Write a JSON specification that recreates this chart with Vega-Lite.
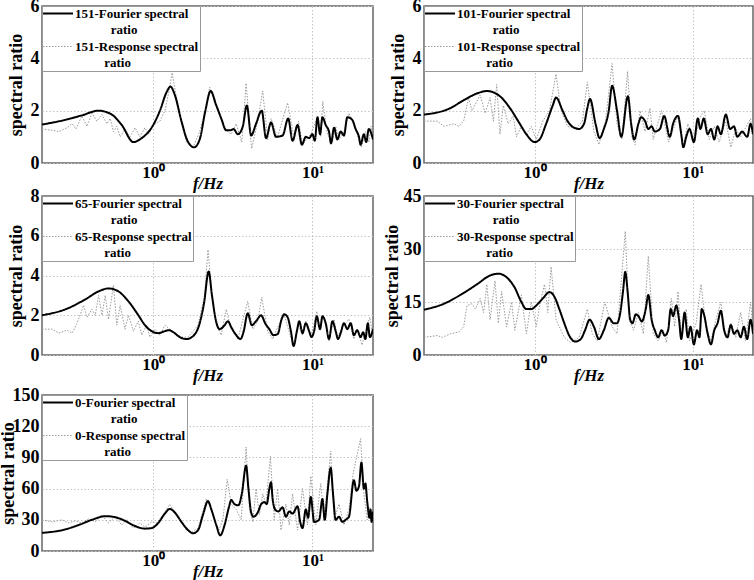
{
  "$schema": "https://vega.github.io/schema/vega-lite/v6.json",
  "background": "white",
  "padding": {"left": -2, "top": -4, "right": 2, "bottom": 0},
  "datasets": {
    "p151": [
      {"kind":"Fourier","f":0.2,"v":1.47},{"kind":"Fourier","f":0.267,"v":1.62},{"kind":"Fourier","f":0.356,"v":1.82},{"kind":"Fourier","f":0.453,"v":2.0},{"kind":"Fourier","f":0.549,"v":1.85},{"kind":"Fourier","f":0.634,"v":1.45},{"kind":"Fourier","f":0.75,"v":0.8},{"kind":"Fourier","f":0.846,"v":0.95},{"kind":"Fourier","f":0.976,"v":1.35},{"kind":"Fourier","f":1.101,"v":2.0},{"kind":"Fourier","f":1.211,"v":2.7},{"kind":"Fourier","f":1.283,"v":2.92},{"kind":"Fourier","f":1.366,"v":2.6},{"kind":"Fourier","f":1.503,"v":1.6},{"kind":"Fourier","f":1.655,"v":0.8},{"kind":"Fourier","f":1.804,"v":0.6},{"kind":"Fourier","f":1.957,"v":0.9},{"kind":"Fourier","f":2.124,"v":2.0},{"kind":"Fourier","f":2.293,"v":2.75},{"kind":"Fourier","f":2.488,"v":2.2},{"kind":"Fourier","f":2.674,"v":1.7},{"kind":"Fourier","f":2.872,"v":1.25},{"kind":"Fourier","f":3.057,"v":1.25},{"kind":"Fourier","f":3.19,"v":1.3},{"kind":"Fourier","f":3.398,"v":1.1},{"kind":"Fourier","f":3.652,"v":1.4},{"kind":"Fourier","f":3.869,"v":2.2},{"kind":"Fourier","f":4.12,"v":1.05},{"kind":"Fourier","f":4.42,"v":1.5},{"kind":"Fourier","f":4.8,"v":2.0},{"kind":"Fourier","f":5.11,"v":0.95},{"kind":"Fourier","f":5.49,"v":1.55},{"kind":"Fourier","f":5.9,"v":1.0},{"kind":"Fourier","f":6.49,"v":1.05},{"kind":"Fourier","f":7.04,"v":1.7},{"kind":"Fourier","f":7.5,"v":0.85},{"kind":"Fourier","f":8.06,"v":1.45},{"kind":"Fourier","f":8.58,"v":0.7},{"kind":"Fourier","f":9.08,"v":1.0},{"kind":"Fourier","f":9.53,"v":0.95},{"kind":"Fourier","f":10.0,"v":1.1},{"kind":"Fourier","f":10.34,"v":0.85},{"kind":"Fourier","f":10.75,"v":1.75},{"kind":"Fourier","f":11.16,"v":1.1},{"kind":"Fourier","f":11.55,"v":1.75},{"kind":"Fourier","f":12.11,"v":1.45},{"kind":"Fourier","f":12.7,"v":1.2},{"kind":"Fourier","f":13.08,"v":0.75},{"kind":"Fourier","f":13.66,"v":1.35},{"kind":"Fourier","f":14.33,"v":0.9},{"kind":"Fourier","f":15.03,"v":1.2},{"kind":"Fourier","f":15.77,"v":1.05},{"kind":"Fourier","f":16.55,"v":1.75},{"kind":"Fourier","f":17.78,"v":1.65},{"kind":"Fourier","f":18.66,"v":1.3},{"kind":"Fourier","f":19.58,"v":1.0},{"kind":"Fourier","f":20.05,"v":0.7},{"kind":"Fourier","f":21.03,"v":1.1},{"kind":"Fourier","f":21.76,"v":0.8},{"kind":"Fourier","f":22.59,"v":1.3},{"kind":"Fourier","f":24,"v":0.9},
      {"kind":"Response","f":0.2,"v":1.3},{"kind":"Response","f":0.232,"v":1.25},{"kind":"Response","f":0.255,"v":1.2},{"kind":"Response","f":0.287,"v":1.35},{"kind":"Response","f":0.309,"v":1.5},{"kind":"Response","f":0.327,"v":1.3},{"kind":"Response","f":0.356,"v":1.8},{"kind":"Response","f":0.383,"v":1.4},{"kind":"Response","f":0.412,"v":1.9},{"kind":"Response","f":0.442,"v":1.6},{"kind":"Response","f":0.476,"v":1.85},{"kind":"Response","f":0.511,"v":1.5},{"kind":"Response","f":0.536,"v":1.7},{"kind":"Response","f":0.562,"v":1.2},{"kind":"Response","f":0.59,"v":1.4},{"kind":"Response","f":0.619,"v":1.0},{"kind":"Response","f":0.665,"v":1.3},{"kind":"Response","f":0.715,"v":1.0},{"kind":"Response","f":0.768,"v":1.35},{"kind":"Response","f":0.825,"v":1.0},{"kind":"Response","f":0.887,"v":1.35},{"kind":"Response","f":0.931,"v":1.1},{"kind":"Response","f":1.0,"v":1.45},{"kind":"Response","f":1.101,"v":1.6},{"kind":"Response","f":1.183,"v":2.0},{"kind":"Response","f":1.241,"v":2.6},{"kind":"Response","f":1.314,"v":3.45},{"kind":"Response","f":1.399,"v":2.5},{"kind":"Response","f":1.503,"v":1.5},{"kind":"Response","f":1.616,"v":0.8},{"kind":"Response","f":1.778,"v":0.6},{"kind":"Response","f":1.957,"v":1.2},{"kind":"Response","f":2.124,"v":2.0},{"kind":"Response","f":2.26,"v":2.9},{"kind":"Response","f":2.427,"v":2.3},{"kind":"Response","f":2.609,"v":1.9},{"kind":"Response","f":2.805,"v":1.3},{"kind":"Response","f":3.088,"v":1.1},{"kind":"Response","f":3.318,"v":1.5},{"kind":"Response","f":3.598,"v":0.8},{"kind":"Response","f":3.83,"v":3.05},{"kind":"Response","f":4.076,"v":1.0},{"kind":"Response","f":4.155,"v":0.55},{"kind":"Response","f":4.53,"v":1.6},{"kind":"Response","f":4.87,"v":2.75},{"kind":"Response","f":5.23,"v":0.9},{"kind":"Response","f":5.49,"v":1.7},{"kind":"Response","f":6.04,"v":1.0},{"kind":"Response","f":6.98,"v":2.3},{"kind":"Response","f":7.68,"v":0.9},{"kind":"Response","f":8.18,"v":1.6},{"kind":"Response","f":8.66,"v":0.7},{"kind":"Response","f":9.76,"v":1.1},{"kind":"Response","f":10.64,"v":1.7},{"kind":"Response","f":11.27,"v":1.0},{"kind":"Response","f":11.6,"v":2.35},{"kind":"Response","f":12.41,"v":1.1},{"kind":"Response","f":13.34,"v":0.8},{"kind":"Response","f":13.99,"v":1.4},{"kind":"Response","f":14.68,"v":0.9},{"kind":"Response","f":15.77,"v":1.2},{"kind":"Response","f":16.95,"v":1.9},{"kind":"Response","f":18.2,"v":1.5},{"kind":"Response","f":19.1,"v":1.1},{"kind":"Response","f":20.3,"v":0.6},{"kind":"Response","f":21.5,"v":1.2},{"kind":"Response","f":22.59,"v":0.8},{"kind":"Response","f":23.36,"v":1.4},{"kind":"Response","f":24,"v":1.0}
    ],
    "p101": [
      {"kind":"Fourier","f":0.2,"v":1.85},{"kind":"Fourier","f":0.294,"v":2.1},{"kind":"Fourier","f":0.356,"v":2.4},{"kind":"Fourier","f":0.453,"v":2.7},{"kind":"Fourier","f":0.499,"v":2.75},{"kind":"Fourier","f":0.604,"v":2.55},{"kind":"Fourier","f":0.698,"v":2.1},{"kind":"Fourier","f":0.806,"v":1.5},{"kind":"Fourier","f":0.887,"v":1.1},{"kind":"Fourier","f":1.0,"v":0.8},{"kind":"Fourier","f":1.075,"v":0.9},{"kind":"Fourier","f":1.183,"v":1.5},{"kind":"Fourier","f":1.302,"v":2.2},{"kind":"Fourier","f":1.366,"v":2.5},{"kind":"Fourier","f":1.503,"v":2.0},{"kind":"Fourier","f":1.616,"v":1.6},{"kind":"Fourier","f":1.778,"v":1.35},{"kind":"Fourier","f":1.911,"v":1.3},{"kind":"Fourier","f":2.054,"v":1.5},{"kind":"Fourier","f":2.154,"v":2.1},{"kind":"Fourier","f":2.239,"v":2.45},{"kind":"Fourier","f":2.427,"v":1.5},{"kind":"Fourier","f":2.573,"v":0.95},{"kind":"Fourier","f":2.738,"v":1.3},{"kind":"Fourier","f":2.943,"v":2.0},{"kind":"Fourier","f":3.088,"v":2.95},{"kind":"Fourier","f":3.318,"v":2.0},{"kind":"Fourier","f":3.53,"v":1.0},{"kind":"Fourier","f":3.887,"v":2.55},{"kind":"Fourier","f":4.076,"v":1.5},{"kind":"Fourier","f":4.26,"v":0.9},{"kind":"Fourier","f":4.53,"v":1.5},{"kind":"Fourier","f":4.71,"v":1.75},{"kind":"Fourier","f":4.99,"v":1.6},{"kind":"Fourier","f":5.23,"v":1.3},{"kind":"Fourier","f":5.49,"v":1.4},{"kind":"Fourier","f":5.75,"v":1.2},{"kind":"Fourier","f":6.19,"v":1.3},{"kind":"Fourier","f":6.59,"v":1.8},{"kind":"Fourier","f":7.15,"v":1.0},{"kind":"Fourier","f":7.5,"v":1.5},{"kind":"Fourier","f":8.06,"v":1.8},{"kind":"Fourier","f":8.45,"v":1.1},{"kind":"Fourier","f":8.7,"v":0.6},{"kind":"Fourier","f":9.08,"v":1.0},{"kind":"Fourier","f":9.53,"v":1.3},{"kind":"Fourier","f":10.15,"v":0.8},{"kind":"Fourier","f":10.75,"v":1.7},{"kind":"Fourier","f":11.16,"v":1.3},{"kind":"Fourier","f":11.72,"v":1.7},{"kind":"Fourier","f":12.41,"v":1.1},{"kind":"Fourier","f":13.02,"v":1.3},{"kind":"Fourier","f":13.66,"v":0.9},{"kind":"Fourier","f":14.33,"v":1.4},{"kind":"Fourier","f":15.03,"v":1.1},{"kind":"Fourier","f":16.16,"v":1.85},{"kind":"Fourier","f":17.19,"v":1.3},{"kind":"Fourier","f":18.2,"v":1.4},{"kind":"Fourier","f":19.1,"v":1.0},{"kind":"Fourier","f":20.5,"v":1.2},{"kind":"Fourier","f":22.06,"v":1.0},{"kind":"Fourier","f":23.16,"v":1.5},{"kind":"Fourier","f":24,"v":1.1},
      {"kind":"Response","f":0.2,"v":1.6},{"kind":"Response","f":0.243,"v":1.6},{"kind":"Response","f":0.267,"v":1.4},{"kind":"Response","f":0.309,"v":1.5},{"kind":"Response","f":0.332,"v":1.4},{"kind":"Response","f":0.356,"v":1.6},{"kind":"Response","f":0.383,"v":2.5},{"kind":"Response","f":0.402,"v":2.0},{"kind":"Response","f":0.453,"v":2.6},{"kind":"Response","f":0.487,"v":1.9},{"kind":"Response","f":0.523,"v":2.5},{"kind":"Response","f":0.549,"v":1.6},{"kind":"Response","f":0.576,"v":3.0},{"kind":"Response","f":0.604,"v":1.1},{"kind":"Response","f":0.634,"v":2.2},{"kind":"Response","f":0.681,"v":1.5},{"kind":"Response","f":0.732,"v":1.8},{"kind":"Response","f":0.768,"v":1.0},{"kind":"Response","f":0.825,"v":1.4},{"kind":"Response","f":0.887,"v":1.1},{"kind":"Response","f":0.953,"v":1.4},{"kind":"Response","f":1.024,"v":0.9},{"kind":"Response","f":1.127,"v":1.6},{"kind":"Response","f":1.241,"v":2.0},{"kind":"Response","f":1.366,"v":3.4},{"kind":"Response","f":1.468,"v":2.0},{"kind":"Response","f":1.616,"v":1.4},{"kind":"Response","f":1.821,"v":1.3},{"kind":"Response","f":2.005,"v":1.6},{"kind":"Response","f":2.154,"v":3.1},{"kind":"Response","f":2.371,"v":1.2},{"kind":"Response","f":2.548,"v":0.7},{"kind":"Response","f":2.805,"v":1.6},{"kind":"Response","f":3.088,"v":3.8},{"kind":"Response","f":3.318,"v":1.5},{"kind":"Response","f":3.565,"v":0.9},{"kind":"Response","f":3.869,"v":3.5},{"kind":"Response","f":4.12,"v":1.0},{"kind":"Response","f":4.32,"v":0.7},{"kind":"Response","f":4.64,"v":2.0},{"kind":"Response","f":4.99,"v":1.2},{"kind":"Response","f":5.36,"v":2.1},{"kind":"Response","f":5.62,"v":0.9},{"kind":"Response","f":6.34,"v":2.0},{"kind":"Response","f":7.04,"v":0.8},{"kind":"Response","f":8.06,"v":1.8},{"kind":"Response","f":8.66,"v":0.6},{"kind":"Response","f":9.3,"v":1.5},{"kind":"Response","f":10.24,"v":0.8},{"kind":"Response","f":11.01,"v":1.7},{"kind":"Response","f":11.83,"v":2.0},{"kind":"Response","f":12.7,"v":0.9},{"kind":"Response","f":13.66,"v":1.4},{"kind":"Response","f":14.68,"v":0.8},{"kind":"Response","f":16.16,"v":1.6},{"kind":"Response","f":17.38,"v":0.6},{"kind":"Response","f":18.66,"v":1.3},{"kind":"Response","f":20.05,"v":1.0},{"kind":"Response","f":23.16,"v":1.7},{"kind":"Response","f":24,"v":0.9}
    ],
    "p65": [
      {"kind":"Fourier","f":0.2,"v":2.0},{"kind":"Fourier","f":0.281,"v":2.3},{"kind":"Fourier","f":0.374,"v":2.8},{"kind":"Fourier","f":0.453,"v":3.2},{"kind":"Fourier","f":0.523,"v":3.35},{"kind":"Fourier","f":0.604,"v":3.2},{"kind":"Fourier","f":0.698,"v":2.7},{"kind":"Fourier","f":0.806,"v":2.0},{"kind":"Fourier","f":0.887,"v":1.5},{"kind":"Fourier","f":0.976,"v":1.2},{"kind":"Fourier","f":1.075,"v":1.1},{"kind":"Fourier","f":1.183,"v":1.2},{"kind":"Fourier","f":1.253,"v":1.25},{"kind":"Fourier","f":1.334,"v":1.15},{"kind":"Fourier","f":1.468,"v":0.9},{"kind":"Fourier","f":1.616,"v":0.8},{"kind":"Fourier","f":1.778,"v":0.95},{"kind":"Fourier","f":1.957,"v":1.6},{"kind":"Fourier","f":2.083,"v":2.6},{"kind":"Fourier","f":2.228,"v":4.2},{"kind":"Fourier","f":2.337,"v":3.0},{"kind":"Fourier","f":2.464,"v":1.8},{"kind":"Fourier","f":2.609,"v":1.3},{"kind":"Fourier","f":2.805,"v":1.5},{"kind":"Fourier","f":2.943,"v":1.7},{"kind":"Fourier","f":3.088,"v":1.4},{"kind":"Fourier","f":3.318,"v":1.0},{"kind":"Fourier","f":3.53,"v":0.8},{"kind":"Fourier","f":3.7,"v":1.2},{"kind":"Fourier","f":3.92,"v":2.1},{"kind":"Fourier","f":4.155,"v":1.5},{"kind":"Fourier","f":4.42,"v":1.7},{"kind":"Fourier","f":4.76,"v":2.0},{"kind":"Fourier","f":5.04,"v":1.6},{"kind":"Fourier","f":5.36,"v":1.3},{"kind":"Fourier","f":5.68,"v":1.0},{"kind":"Fourier","f":6.04,"v":1.05},{"kind":"Fourier","f":6.4,"v":1.8},{"kind":"Fourier","f":6.65,"v":2.05},{"kind":"Fourier","f":6.98,"v":1.9},{"kind":"Fourier","f":7.32,"v":1.2},{"kind":"Fourier","f":7.61,"v":0.45},{"kind":"Fourier","f":7.98,"v":1.2},{"kind":"Fourier","f":8.26,"v":1.7},{"kind":"Fourier","f":8.66,"v":1.1},{"kind":"Fourier","f":9.08,"v":1.6},{"kind":"Fourier","f":9.53,"v":1.2},{"kind":"Fourier","f":9.86,"v":0.9},{"kind":"Fourier","f":10.24,"v":1.2},{"kind":"Fourier","f":10.64,"v":1.95},{"kind":"Fourier","f":11.16,"v":1.3},{"kind":"Fourier","f":11.55,"v":1.95},{"kind":"Fourier","f":12.11,"v":1.6},{"kind":"Fourier","f":12.7,"v":0.8},{"kind":"Fourier","f":13.34,"v":1.7},{"kind":"Fourier","f":13.99,"v":1.2},{"kind":"Fourier","f":14.47,"v":0.8},{"kind":"Fourier","f":15.03,"v":1.1},{"kind":"Fourier","f":15.77,"v":1.6},{"kind":"Fourier","f":16.55,"v":1.3},{"kind":"Fourier","f":17.38,"v":1.6},{"kind":"Fourier","f":18.2,"v":1.0},{"kind":"Fourier","f":19.1,"v":1.25},{"kind":"Fourier","f":20.05,"v":0.9},{"kind":"Fourier","f":20.83,"v":1.15},{"kind":"Fourier","f":21.5,"v":0.8},{"kind":"Fourier","f":22.28,"v":1.6},{"kind":"Fourier","f":22.93,"v":0.9},{"kind":"Fourier","f":24,"v":1.3},
      {"kind":"Response","f":0.2,"v":1.3},{"kind":"Response","f":0.232,"v":1.3},{"kind":"Response","f":0.255,"v":1.1},{"kind":"Response","f":0.287,"v":1.25},{"kind":"Response","f":0.309,"v":1.1},{"kind":"Response","f":0.332,"v":1.6},{"kind":"Response","f":0.365,"v":2.5},{"kind":"Response","f":0.383,"v":1.9},{"kind":"Response","f":0.412,"v":2.3},{"kind":"Response","f":0.432,"v":2.0},{"kind":"Response","f":0.453,"v":3.0},{"kind":"Response","f":0.476,"v":2.0},{"kind":"Response","f":0.499,"v":3.0},{"kind":"Response","f":0.523,"v":1.8},{"kind":"Response","f":0.562,"v":3.5},{"kind":"Response","f":0.59,"v":1.5},{"kind":"Response","f":0.619,"v":2.5},{"kind":"Response","f":0.665,"v":1.3},{"kind":"Response","f":0.698,"v":2.0},{"kind":"Response","f":0.75,"v":1.2},{"kind":"Response","f":0.806,"v":1.7},{"kind":"Response","f":0.846,"v":1.0},{"kind":"Response","f":0.908,"v":1.5},{"kind":"Response","f":0.953,"v":0.9},{"kind":"Response","f":1.024,"v":1.3},{"kind":"Response","f":1.101,"v":1.0},{"kind":"Response","f":1.183,"v":1.5},{"kind":"Response","f":1.271,"v":1.3},{"kind":"Response","f":1.366,"v":1.1},{"kind":"Response","f":1.503,"v":0.9},{"kind":"Response","f":1.655,"v":0.9},{"kind":"Response","f":1.911,"v":1.5},{"kind":"Response","f":2.102,"v":3.0},{"kind":"Response","f":2.207,"v":5.3},{"kind":"Response","f":2.337,"v":3.0},{"kind":"Response","f":2.488,"v":1.5},{"kind":"Response","f":2.674,"v":1.0},{"kind":"Response","f":2.872,"v":2.3},{"kind":"Response","f":3.088,"v":1.3},{"kind":"Response","f":3.398,"v":0.8},{"kind":"Response","f":3.92,"v":2.7},{"kind":"Response","f":4.22,"v":1.3},{"kind":"Response","f":4.53,"v":1.7},{"kind":"Response","f":4.8,"v":2.9},{"kind":"Response","f":5.23,"v":1.2},{"kind":"Response","f":5.62,"v":0.8},{"kind":"Response","f":5.9,"v":1.2},{"kind":"Response","f":6.59,"v":2.1},{"kind":"Response","f":7.25,"v":1.0},{"kind":"Response","f":7.61,"v":0.5},{"kind":"Response","f":8.18,"v":1.5},{"kind":"Response","f":8.66,"v":1.0},{"kind":"Response","f":9.08,"v":1.7},{"kind":"Response","f":9.76,"v":0.9},{"kind":"Response","f":10.64,"v":2.2},{"kind":"Response","f":11.16,"v":1.3},{"kind":"Response","f":11.72,"v":2.0},{"kind":"Response","f":12.7,"v":0.7},{"kind":"Response","f":13.66,"v":1.8},{"kind":"Response","f":14.33,"v":0.9},{"kind":"Response","f":15.4,"v":1.4},{"kind":"Response","f":16.95,"v":1.8},{"kind":"Response","f":18.2,"v":0.8},{"kind":"Response","f":19.1,"v":1.3},{"kind":"Response","f":20.5,"v":0.5},{"kind":"Response","f":22.06,"v":1.5},{"kind":"Response","f":22.93,"v":1.9},{"kind":"Response","f":24,"v":0.9}
    ],
    "p30": [
      {"kind":"Fourier","f":0.2,"v":12.8},{"kind":"Fourier","f":0.267,"v":14.5},{"kind":"Fourier","f":0.34,"v":17},{"kind":"Fourier","f":0.432,"v":20},{"kind":"Fourier","f":0.523,"v":22.5},{"kind":"Fourier","f":0.59,"v":23},{"kind":"Fourier","f":0.665,"v":22},{"kind":"Fourier","f":0.75,"v":19},{"kind":"Fourier","f":0.825,"v":15},{"kind":"Fourier","f":0.887,"v":13},{"kind":"Fourier","f":0.953,"v":13},{"kind":"Fourier","f":1.024,"v":14},{"kind":"Fourier","f":1.127,"v":16},{"kind":"Fourier","f":1.241,"v":17.8},{"kind":"Fourier","f":1.334,"v":16.5},{"kind":"Fourier","f":1.433,"v":13},{"kind":"Fourier","f":1.54,"v":9},{"kind":"Fourier","f":1.655,"v":5.5},{"kind":"Fourier","f":1.804,"v":3.8},{"kind":"Fourier","f":1.957,"v":4.5},{"kind":"Fourier","f":2.083,"v":7},{"kind":"Fourier","f":2.228,"v":10},{"kind":"Fourier","f":2.371,"v":8},{"kind":"Fourier","f":2.548,"v":4.5},{"kind":"Fourier","f":2.738,"v":7},{"kind":"Fourier","f":2.943,"v":10.5},{"kind":"Fourier","f":3.162,"v":9},{"kind":"Fourier","f":3.318,"v":9},{"kind":"Fourier","f":3.48,"v":12},{"kind":"Fourier","f":3.62,"v":18},{"kind":"Fourier","f":3.74,"v":23.5},{"kind":"Fourier","f":3.869,"v":18},{"kind":"Fourier","f":4.02,"v":10},{"kind":"Fourier","f":4.155,"v":9},{"kind":"Fourier","f":4.36,"v":11.5},{"kind":"Fourier","f":4.53,"v":11},{"kind":"Fourier","f":4.76,"v":9.5},{"kind":"Fourier","f":5.04,"v":13},{"kind":"Fourier","f":5.23,"v":17},{"kind":"Fourier","f":5.49,"v":10},{"kind":"Fourier","f":5.75,"v":7},{"kind":"Fourier","f":6.04,"v":5},{"kind":"Fourier","f":6.34,"v":7},{"kind":"Fourier","f":6.65,"v":5.5},{"kind":"Fourier","f":6.98,"v":7},{"kind":"Fourier","f":7.25,"v":13},{"kind":"Fourier","f":7.5,"v":11},{"kind":"Fourier","f":7.86,"v":14},{"kind":"Fourier","f":8.18,"v":10},{"kind":"Fourier","f":8.45,"v":4.5},{"kind":"Fourier","f":8.87,"v":12},{"kind":"Fourier","f":9.3,"v":5},{"kind":"Fourier","f":9.67,"v":8},{"kind":"Fourier","f":10.15,"v":3},{"kind":"Fourier","f":10.64,"v":7},{"kind":"Fourier","f":11.01,"v":5},{"kind":"Fourier","f":11.38,"v":13},{"kind":"Fourier","f":11.83,"v":11},{"kind":"Fourier","f":12.41,"v":6},{"kind":"Fourier","f":13.02,"v":3},{"kind":"Fourier","f":13.66,"v":7},{"kind":"Fourier","f":14.33,"v":9},{"kind":"Fourier","f":15.03,"v":12.5},{"kind":"Fourier","f":15.77,"v":7},{"kind":"Fourier","f":16.55,"v":5},{"kind":"Fourier","f":17.38,"v":8.5},{"kind":"Fourier","f":18.2,"v":6},{"kind":"Fourier","f":19.1,"v":7},{"kind":"Fourier","f":20.05,"v":5},{"kind":"Fourier","f":21.03,"v":8},{"kind":"Fourier","f":22.06,"v":4.5},{"kind":"Fourier","f":23.16,"v":10},{"kind":"Fourier","f":24,"v":6},
      {"kind":"Response","f":0.2,"v":5},{"kind":"Response","f":0.243,"v":5.5},{"kind":"Response","f":0.261,"v":5},{"kind":"Response","f":0.294,"v":6},{"kind":"Response","f":0.332,"v":6.5},{"kind":"Response","f":0.356,"v":8},{"kind":"Response","f":0.374,"v":14},{"kind":"Response","f":0.402,"v":14.5},{"kind":"Response","f":0.422,"v":13},{"kind":"Response","f":0.453,"v":16},{"kind":"Response","f":0.476,"v":12},{"kind":"Response","f":0.499,"v":20},{"kind":"Response","f":0.523,"v":10},{"kind":"Response","f":0.562,"v":21},{"kind":"Response","f":0.59,"v":9},{"kind":"Response","f":0.619,"v":18},{"kind":"Response","f":0.665,"v":8},{"kind":"Response","f":0.715,"v":15},{"kind":"Response","f":0.75,"v":7},{"kind":"Response","f":0.825,"v":17},{"kind":"Response","f":0.887,"v":6},{"kind":"Response","f":0.953,"v":15},{"kind":"Response","f":1.024,"v":8},{"kind":"Response","f":1.075,"v":14},{"kind":"Response","f":1.155,"v":20},{"kind":"Response","f":1.211,"v":12},{"kind":"Response","f":1.271,"v":25},{"kind":"Response","f":1.366,"v":10},{"kind":"Response","f":1.54,"v":5},{"kind":"Response","f":1.695,"v":3.5},{"kind":"Response","f":1.911,"v":5},{"kind":"Response","f":2.154,"v":13},{"kind":"Response","f":2.316,"v":6},{"kind":"Response","f":2.488,"v":4},{"kind":"Response","f":2.778,"v":15},{"kind":"Response","f":3.088,"v":8},{"kind":"Response","f":3.318,"v":6},{"kind":"Response","f":3.74,"v":35},{"kind":"Response","f":3.96,"v":10},{"kind":"Response","f":4.22,"v":7},{"kind":"Response","f":4.53,"v":12},{"kind":"Response","f":4.87,"v":6},{"kind":"Response","f":5.23,"v":28},{"kind":"Response","f":5.62,"v":6},{"kind":"Response","f":6.04,"v":4},{"kind":"Response","f":6.49,"v":7},{"kind":"Response","f":6.81,"v":3.5},{"kind":"Response","f":7.32,"v":16},{"kind":"Response","f":7.68,"v":8},{"kind":"Response","f":8.06,"v":18},{"kind":"Response","f":8.45,"v":5},{"kind":"Response","f":9.08,"v":13},{"kind":"Response","f":9.53,"v":4},{"kind":"Response","f":10.49,"v":9},{"kind":"Response","f":11.27,"v":20},{"kind":"Response","f":12.11,"v":8},{"kind":"Response","f":13.02,"v":4},{"kind":"Response","f":13.99,"v":10},{"kind":"Response","f":15.03,"v":15},{"kind":"Response","f":16.16,"v":5},{"kind":"Response","f":17.38,"v":9},{"kind":"Response","f":18.66,"v":5},{"kind":"Response","f":20.05,"v":12},{"kind":"Response","f":21.5,"v":4},{"kind":"Response","f":23.16,"v":15},{"kind":"Response","f":24,"v":7}
    ],
    "p0": [
      {"kind":"Fourier","f":0.2,"v":17.5},{"kind":"Fourier","f":0.267,"v":20},{"kind":"Fourier","f":0.34,"v":25},{"kind":"Fourier","f":0.412,"v":30},{"kind":"Fourier","f":0.499,"v":33.5},{"kind":"Fourier","f":0.576,"v":32.5},{"kind":"Fourier","f":0.665,"v":29},{"kind":"Fourier","f":0.768,"v":24},{"kind":"Fourier","f":0.887,"v":21.5},{"kind":"Fourier","f":0.976,"v":22},{"kind":"Fourier","f":1.075,"v":27},{"kind":"Fourier","f":1.183,"v":36},{"kind":"Fourier","f":1.271,"v":40.5},{"kind":"Fourier","f":1.366,"v":37},{"kind":"Fourier","f":1.503,"v":28},{"kind":"Fourier","f":1.655,"v":20},{"kind":"Fourier","f":1.778,"v":17},{"kind":"Fourier","f":1.911,"v":20},{"kind":"Fourier","f":2.054,"v":35},{"kind":"Fourier","f":2.207,"v":48},{"kind":"Fourier","f":2.316,"v":40},{"kind":"Fourier","f":2.488,"v":25},{"kind":"Fourier","f":2.634,"v":15},{"kind":"Fourier","f":2.805,"v":25},{"kind":"Fourier","f":2.985,"v":42},{"kind":"Fourier","f":3.088,"v":49},{"kind":"Fourier","f":3.24,"v":45},{"kind":"Fourier","f":3.43,"v":44},{"kind":"Fourier","f":3.598,"v":55},{"kind":"Fourier","f":3.83,"v":82},{"kind":"Fourier","f":3.96,"v":60},{"kind":"Fourier","f":4.12,"v":37},{"kind":"Fourier","f":4.26,"v":33},{"kind":"Fourier","f":4.53,"v":37},{"kind":"Fourier","f":4.76,"v":45},{"kind":"Fourier","f":4.99,"v":47},{"kind":"Fourier","f":5.16,"v":45},{"kind":"Fourier","f":5.36,"v":60},{"kind":"Fourier","f":5.49,"v":66},{"kind":"Fourier","f":5.62,"v":50},{"kind":"Fourier","f":5.82,"v":40},{"kind":"Fourier","f":6.1,"v":38},{"kind":"Fourier","f":6.49,"v":42},{"kind":"Fourier","f":6.81,"v":33},{"kind":"Fourier","f":7.15,"v":38},{"kind":"Fourier","f":7.5,"v":36},{"kind":"Fourier","f":8.06,"v":43},{"kind":"Fourier","f":8.37,"v":28},{"kind":"Fourier","f":8.66,"v":22},{"kind":"Fourier","f":9.08,"v":40},{"kind":"Fourier","f":9.39,"v":32},{"kind":"Fourier","f":9.76,"v":52},{"kind":"Fourier","f":10.24,"v":28},{"kind":"Fourier","f":11.01,"v":30},{"kind":"Fourier","f":11.55,"v":50},{"kind":"Fourier","f":11.94,"v":30},{"kind":"Fourier","f":12.41,"v":55},{"kind":"Fourier","f":13.02,"v":80},{"kind":"Fourier","f":13.46,"v":55},{"kind":"Fourier","f":13.99,"v":30},{"kind":"Fourier","f":14.68,"v":33},{"kind":"Fourier","f":15.4,"v":28},{"kind":"Fourier","f":16.16,"v":30},{"kind":"Fourier","f":16.95,"v":33},{"kind":"Fourier","f":18.2,"v":68},{"kind":"Fourier","f":18.9,"v":58},{"kind":"Fourier","f":19.58,"v":62},{"kind":"Fourier","f":20.3,"v":85},{"kind":"Fourier","f":21.03,"v":60},{"kind":"Fourier","f":21.5,"v":65},{"kind":"Fourier","f":22.06,"v":48},{"kind":"Fourier","f":22.82,"v":32},{"kind":"Fourier","f":23.16,"v":40},{"kind":"Fourier","f":23.49,"v":28},{"kind":"Fourier","f":24,"v":38},
      {"kind":"Response","f":0.2,"v":30},{"kind":"Response","f":0.232,"v":28},{"kind":"Response","f":0.267,"v":30},{"kind":"Response","f":0.294,"v":27},{"kind":"Response","f":0.324,"v":29},{"kind":"Response","f":0.356,"v":27},{"kind":"Response","f":0.393,"v":31},{"kind":"Response","f":0.432,"v":28},{"kind":"Response","f":0.476,"v":34},{"kind":"Response","f":0.523,"v":27},{"kind":"Response","f":0.576,"v":33},{"kind":"Response","f":0.634,"v":25},{"kind":"Response","f":0.681,"v":30},{"kind":"Response","f":0.75,"v":22},{"kind":"Response","f":0.825,"v":27},{"kind":"Response","f":0.887,"v":23},{"kind":"Response","f":0.976,"v":28},{"kind":"Response","f":1.049,"v":27},{"kind":"Response","f":1.155,"v":35},{"kind":"Response","f":1.271,"v":45},{"kind":"Response","f":1.366,"v":36},{"kind":"Response","f":1.54,"v":25},{"kind":"Response","f":1.736,"v":18},{"kind":"Response","f":1.911,"v":22},{"kind":"Response","f":2.154,"v":50},{"kind":"Response","f":2.316,"v":40},{"kind":"Response","f":2.548,"v":18},{"kind":"Response","f":2.738,"v":30},{"kind":"Response","f":2.915,"v":69},{"kind":"Response","f":3.088,"v":45},{"kind":"Response","f":3.318,"v":40},{"kind":"Response","f":3.565,"v":30},{"kind":"Response","f":3.83,"v":100},{"kind":"Response","f":4.02,"v":40},{"kind":"Response","f":4.22,"v":28},{"kind":"Response","f":4.42,"v":60},{"kind":"Response","f":4.64,"v":35},{"kind":"Response","f":4.87,"v":55},{"kind":"Response","f":5.11,"v":45},{"kind":"Response","f":5.44,"v":91},{"kind":"Response","f":5.75,"v":30},{"kind":"Response","f":6.04,"v":60},{"kind":"Response","f":6.34,"v":20},{"kind":"Response","f":6.81,"v":45},{"kind":"Response","f":7.15,"v":25},{"kind":"Response","f":7.5,"v":55},{"kind":"Response","f":8.06,"v":20},{"kind":"Response","f":8.66,"v":60},{"kind":"Response","f":9.3,"v":25},{"kind":"Response","f":9.76,"v":72},{"kind":"Response","f":10.49,"v":25},{"kind":"Response","f":11.27,"v":65},{"kind":"Response","f":11.83,"v":30},{"kind":"Response","f":13.02,"v":96},{"kind":"Response","f":13.66,"v":30},{"kind":"Response","f":14.68,"v":45},{"kind":"Response","f":15.77,"v":25},{"kind":"Response","f":16.95,"v":40},{"kind":"Response","f":18.03,"v":75},{"kind":"Response","f":20.05,"v":108},{"kind":"Response","f":21.03,"v":55},{"kind":"Response","f":22.06,"v":30},{"kind":"Response","f":22.93,"v":42},{"kind":"Response","f":24,"v":25}
    ]
  },
  "config": {
    "font": "Liberation Serif",
    "view": {"stroke": "#666666", "strokeWidth": 1.5},
    "axis": {
      "domain": false,
      "ticks": false,
      "grid": true,
      "gridColor": "#c4c4c4",
      "gridDash": [1.5, 2],
      "gridWidth": 1,
      "labelFont": "Liberation Serif",
      "labelFontWeight": "bold",
      "labelColor": "black",
      "titleFont": "Liberation Serif",
      "titleFontWeight": "bold",
      "titleColor": "black"
    },
    "axisX": {"labelFontSize": 17, "labelPadding": 1, "titleFontSize": 17, "titleFontStyle": "italic", "titleY": 12, "titleBaseline": "top"},
    "axisY": {"labelFontSize": 18, "labelPadding": 3, "titleFontSize": 18, "titleX": -17},
    "legend": {
      "orient": "top-left",
      "offset": 0,
      "padding": 1,
      "fillColor": "white",
      "strokeColor": "#999999",
      "labelFont": "Liberation Serif",
      "labelFontSize": 13,
      "labelFontWeight": "bold",
      "labelColor": "black",
      "labelLimit": 0,
      "labelOffset": 2,
      "symbolType": "stroke",
      "symbolSize": 900,
      "symbolStrokeWidth": 2,
      "rowPadding": 3
    }
  },
  "spacing": -6,
  "resolve": {
    "scale": {"color": "independent", "strokeDash": "independent", "x": "independent", "y": "independent"},
    "legend": {"color": "independent", "strokeDash": "independent"}
  },
  "vconcat": [
    {
      "spacing": 51,
      "bounds": "flush",
      "resolve": {
        "scale": {"color": "independent", "strokeDash": "independent", "x": "independent", "y": "independent"},
        "legend": {"color": "independent", "strokeDash": "independent"}
      },
      "hconcat": [
        {
          "width": 331,
          "height": 157,
          "data": {"name": "p151"},
          "encoding": {
            "x": {"field": "f", "type": "quantitative", "scale": {"type": "log", "domain": [0.2, 24], "nice": false}, "axis": {"values": [1, 10], "labelExpr": "datum.value == 1 ? '10⁰' : '10¹'", "title": "f/Hz"}},
            "y": {"field": "v", "type": "quantitative", "scale": {"domain": [0, 6], "nice": false}, "axis": {"values": [0, 2, 4, 6], "title": "spectral ratio"}},
            "color": {"field": "kind", "type": "nominal", "scale": {"domain": ["Fourier", "Response"], "range": ["#000000", "#9a9a9a"]},
              "legend": {"title": null, "labelExpr": "datum.label == 'Fourier' ? ['151-Fourier spectral', '\u200b\u00a0\u00a0\u00a0\u00a0\u00a0\u00a0\u00a0\u00a0\u00a0\u00a0\u00a0ratio'] : ['151-Response spectral', '\u200b\u00a0\u00a0\u00a0\u00a0\u00a0\u00a0\u00a0\u00a0\u00a0ratio']",
                "encode": {"labels": {"update": {"x": {"value": 32}, "lineHeight": {"value": 16.5}}}, "symbols": {"update": {"x": {"value": 15}, "size": {"value": 900}, "strokeWidth": {"signal": "datum.value == 'Fourier' ? 2 : 1"}}}}}},
            "strokeDash": {"field": "kind", "type": "nominal", "scale": {"domain": ["Fourier", "Response"], "range": [[1, 0], [1.5, 1.5]]},
              "legend": {"title": null, "labelExpr": "datum.label == 'Fourier' ? ['151-Fourier spectral', '\u200b\u00a0\u00a0\u00a0\u00a0\u00a0\u00a0\u00a0\u00a0\u00a0\u00a0\u00a0ratio'] : ['151-Response spectral', '\u200b\u00a0\u00a0\u00a0\u00a0\u00a0\u00a0\u00a0\u00a0\u00a0ratio']",
                "encode": {"labels": {"update": {"x": {"value": 32}, "lineHeight": {"value": 16.5}}}, "symbols": {"update": {"x": {"value": 15}, "size": {"value": 900}, "strokeWidth": {"signal": "datum.value == 'Fourier' ? 2 : 1"}}}}}}
          },
          "layer": [
            {"transform": [{"filter": "datum.kind == 'Response'"}], "mark": {"type": "line", "strokeWidth": 1, "clip": true}},
            {"transform": [{"filter": "datum.kind == 'Fourier'"}], "mark": {"type": "line", "strokeWidth": 2, "interpolate": "monotone", "clip": true}}
          ]
        },
        {
          "width": 329,
          "height": 157,
          "data": {"name": "p101"},
          "encoding": {
            "x": {"field": "f", "type": "quantitative", "scale": {"type": "log", "domain": [0.2, 24], "nice": false}, "axis": {"values": [1, 10], "labelExpr": "datum.value == 1 ? '10⁰' : '10¹'", "title": "f/Hz"}},
            "y": {"field": "v", "type": "quantitative", "scale": {"domain": [0, 6], "nice": false}, "axis": {"values": [0, 2, 4, 6], "title": "spectral ratio"}},
            "color": {"field": "kind", "type": "nominal", "scale": {"domain": ["Fourier", "Response"], "range": ["#000000", "#9a9a9a"]},
              "legend": {"title": null, "labelExpr": "datum.label == 'Fourier' ? ['101-Fourier spectral', '\u200b\u00a0\u00a0\u00a0\u00a0\u00a0\u00a0\u00a0\u00a0\u00a0\u00a0\u00a0ratio'] : ['101-Response spectral', '\u200b\u00a0\u00a0\u00a0\u00a0\u00a0\u00a0\u00a0\u00a0\u00a0ratio']",
                "encode": {"labels": {"update": {"x": {"value": 32}, "lineHeight": {"value": 16.5}}}, "symbols": {"update": {"x": {"value": 15}, "size": {"value": 900}, "strokeWidth": {"signal": "datum.value == 'Fourier' ? 2 : 1"}}}}}},
            "strokeDash": {"field": "kind", "type": "nominal", "scale": {"domain": ["Fourier", "Response"], "range": [[1, 0], [1.5, 1.5]]},
              "legend": {"title": null, "labelExpr": "datum.label == 'Fourier' ? ['101-Fourier spectral', '\u200b\u00a0\u00a0\u00a0\u00a0\u00a0\u00a0\u00a0\u00a0\u00a0\u00a0\u00a0ratio'] : ['101-Response spectral', '\u200b\u00a0\u00a0\u00a0\u00a0\u00a0\u00a0\u00a0\u00a0\u00a0ratio']",
                "encode": {"labels": {"update": {"x": {"value": 32}, "lineHeight": {"value": 16.5}}}, "symbols": {"update": {"x": {"value": 15}, "size": {"value": 900}, "strokeWidth": {"signal": "datum.value == 'Fourier' ? 2 : 1"}}}}}}
          },
          "layer": [
            {"transform": [{"filter": "datum.kind == 'Response'"}], "mark": {"type": "line", "strokeWidth": 1, "clip": true}},
            {"transform": [{"filter": "datum.kind == 'Fourier'"}], "mark": {"type": "line", "strokeWidth": 2, "interpolate": "monotone", "clip": true}}
          ]
        }
      ]
    },
    {
      "spacing": 1,
      "resolve": {
        "scale": {"color": "independent", "strokeDash": "independent", "x": "independent", "y": "independent"},
        "legend": {"color": "independent", "strokeDash": "independent"}
      },
      "vconcat": [
        {
          "spacing": 51,
          "bounds": "flush",
          "resolve": {
            "scale": {"color": "independent", "strokeDash": "independent", "x": "independent", "y": "independent"},
            "legend": {"color": "independent", "strokeDash": "independent"}
          },
          "hconcat": [
            {
              "width": 331,
              "height": 159,
              "data": {"name": "p65"},
              "encoding": {
                "x": {"field": "f", "type": "quantitative", "scale": {"type": "log", "domain": [0.2, 24], "nice": false}, "axis": {"values": [1, 10], "labelExpr": "datum.value == 1 ? '10⁰' : '10¹'", "title": "f/Hz"}},
                "y": {"field": "v", "type": "quantitative", "scale": {"domain": [0, 8], "nice": false}, "axis": {"values": [0, 2, 4, 6, 8], "title": "spectral ratio"}},
                "color": {"field": "kind", "type": "nominal", "scale": {"domain": ["Fourier", "Response"], "range": ["#000000", "#9a9a9a"]},
                  "legend": {"title": null, "labelExpr": "datum.label == 'Fourier' ? ['65-Fourier spectral', '\u200b\u00a0\u00a0\u00a0\u00a0\u00a0\u00a0\u00a0\u00a0\u00a0\u00a0\u00a0ratio'] : ['65-Response spectral', '\u200b\u00a0\u00a0\u00a0\u00a0\u00a0\u00a0\u00a0\u00a0\u00a0ratio']",
                    "encode": {"labels": {"update": {"x": {"value": 32}, "lineHeight": {"value": 16.5}}}, "symbols": {"update": {"x": {"value": 15}, "size": {"value": 900}, "strokeWidth": {"signal": "datum.value == 'Fourier' ? 2 : 1"}}}}}},
                "strokeDash": {"field": "kind", "type": "nominal", "scale": {"domain": ["Fourier", "Response"], "range": [[1, 0], [1.5, 1.5]]},
                  "legend": {"title": null, "labelExpr": "datum.label == 'Fourier' ? ['65-Fourier spectral', '\u200b\u00a0\u00a0\u00a0\u00a0\u00a0\u00a0\u00a0\u00a0\u00a0\u00a0\u00a0ratio'] : ['65-Response spectral', '\u200b\u00a0\u00a0\u00a0\u00a0\u00a0\u00a0\u00a0\u00a0\u00a0ratio']",
                    "encode": {"labels": {"update": {"x": {"value": 32}, "lineHeight": {"value": 16.5}}}, "symbols": {"update": {"x": {"value": 15}, "size": {"value": 900}, "strokeWidth": {"signal": "datum.value == 'Fourier' ? 2 : 1"}}}}}}
              },
              "layer": [
                {"transform": [{"filter": "datum.kind == 'Response'"}], "mark": {"type": "line", "strokeWidth": 1, "clip": true}},
                {"transform": [{"filter": "datum.kind == 'Fourier'"}], "mark": {"type": "line", "strokeWidth": 2, "interpolate": "monotone", "clip": true}}
              ]
            },
            {
              "width": 329,
              "height": 159,
              "data": {"name": "p30"},
              "encoding": {
                "x": {"field": "f", "type": "quantitative", "scale": {"type": "log", "domain": [0.2, 24], "nice": false}, "axis": {"values": [1, 10], "labelExpr": "datum.value == 1 ? '10⁰' : '10¹'", "title": "f/Hz"}},
                "y": {"field": "v", "type": "quantitative", "scale": {"domain": [0, 45], "nice": false}, "axis": {"values": [0, 15, 30, 45], "title": "spectral ratio", "titleX": -23}},
                "color": {"field": "kind", "type": "nominal", "scale": {"domain": ["Fourier", "Response"], "range": ["#000000", "#9a9a9a"]},
                  "legend": {"title": null, "labelExpr": "datum.label == 'Fourier' ? ['30-Fourier spectral', '\u200b\u00a0\u00a0\u00a0\u00a0\u00a0\u00a0\u00a0\u00a0\u00a0\u00a0\u00a0ratio'] : ['30-Response spectral', '\u200b\u00a0\u00a0\u00a0\u00a0\u00a0\u00a0\u00a0\u00a0\u00a0ratio']",
                    "encode": {"labels": {"update": {"x": {"value": 32}, "lineHeight": {"value": 16.5}}}, "symbols": {"update": {"x": {"value": 15}, "size": {"value": 900}, "strokeWidth": {"signal": "datum.value == 'Fourier' ? 2 : 1"}}}}}},
                "strokeDash": {"field": "kind", "type": "nominal", "scale": {"domain": ["Fourier", "Response"], "range": [[1, 0], [1.5, 1.5]]},
                  "legend": {"title": null, "labelExpr": "datum.label == 'Fourier' ? ['30-Fourier spectral', '\u200b\u00a0\u00a0\u00a0\u00a0\u00a0\u00a0\u00a0\u00a0\u00a0\u00a0\u00a0ratio'] : ['30-Response spectral', '\u200b\u00a0\u00a0\u00a0\u00a0\u00a0\u00a0\u00a0\u00a0\u00a0ratio']",
                    "encode": {"labels": {"update": {"x": {"value": 32}, "lineHeight": {"value": 16.5}}}, "symbols": {"update": {"x": {"value": 15}, "size": {"value": 900}, "strokeWidth": {"signal": "datum.value == 'Fourier' ? 2 : 1"}}}}}}
              },
              "layer": [
                {"transform": [{"filter": "datum.kind == 'Response'"}], "mark": {"type": "line", "strokeWidth": 1, "clip": true}},
                {"transform": [{"filter": "datum.kind == 'Fourier'"}], "mark": {"type": "line", "strokeWidth": 2, "interpolate": "monotone", "clip": true}}
              ]
            }
          ]
        },
        {
          "bounds": "flush",
          "resolve": {
            "scale": {"color": "independent", "strokeDash": "independent", "x": "independent", "y": "independent"},
            "legend": {"color": "independent", "strokeDash": "independent"}
          },
          "hconcat": [
            {
              "width": 331,
              "height": 156,
              "data": {"name": "p0"},
              "encoding": {
                "x": {"field": "f", "type": "quantitative", "scale": {"type": "log", "domain": [0.2, 24], "nice": false}, "axis": {"values": [1, 10], "labelExpr": "datum.value == 1 ? '10⁰' : '10¹'", "title": "f/Hz"}},
                "y": {"field": "v", "type": "quantitative", "scale": {"domain": [0, 150], "nice": false}, "axis": {"values": [0, 30, 60, 90, 120, 150], "title": "spectral ratio", "titleX": -25}},
                "color": {"field": "kind", "type": "nominal", "scale": {"domain": ["Fourier", "Response"], "range": ["#000000", "#9a9a9a"]},
                  "legend": {"title": null, "labelExpr": "datum.label == 'Fourier' ? ['0-Fourier spectral', '\u200b\u00a0\u00a0\u00a0\u00a0\u00a0\u00a0\u00a0\u00a0\u00a0\u00a0\u00a0ratio'] : ['0-Response spectral', '\u200b\u00a0\u00a0\u00a0\u00a0\u00a0\u00a0\u00a0\u00a0\u00a0ratio']",
                    "encode": {"labels": {"update": {"x": {"value": 32}, "lineHeight": {"value": 16.5}}}, "symbols": {"update": {"x": {"value": 15}, "size": {"value": 900}, "strokeWidth": {"signal": "datum.value == 'Fourier' ? 2 : 1"}}}}}},
                "strokeDash": {"field": "kind", "type": "nominal", "scale": {"domain": ["Fourier", "Response"], "range": [[1, 0], [1.5, 1.5]]},
                  "legend": {"title": null, "labelExpr": "datum.label == 'Fourier' ? ['0-Fourier spectral', '\u200b\u00a0\u00a0\u00a0\u00a0\u00a0\u00a0\u00a0\u00a0\u00a0\u00a0\u00a0ratio'] : ['0-Response spectral', '\u200b\u00a0\u00a0\u00a0\u00a0\u00a0\u00a0\u00a0\u00a0\u00a0ratio']",
                    "encode": {"labels": {"update": {"x": {"value": 32}, "lineHeight": {"value": 16.5}}}, "symbols": {"update": {"x": {"value": 15}, "size": {"value": 900}, "strokeWidth": {"signal": "datum.value == 'Fourier' ? 2 : 1"}}}}}}
              },
              "layer": [
                {"transform": [{"filter": "datum.kind == 'Response'"}], "mark": {"type": "line", "strokeWidth": 1, "clip": true}},
                {"transform": [{"filter": "datum.kind == 'Fourier'"}], "mark": {"type": "line", "strokeWidth": 2, "interpolate": "monotone", "clip": true}}
              ]
            }
          ]
        }
      ]
    }
  ]
}
